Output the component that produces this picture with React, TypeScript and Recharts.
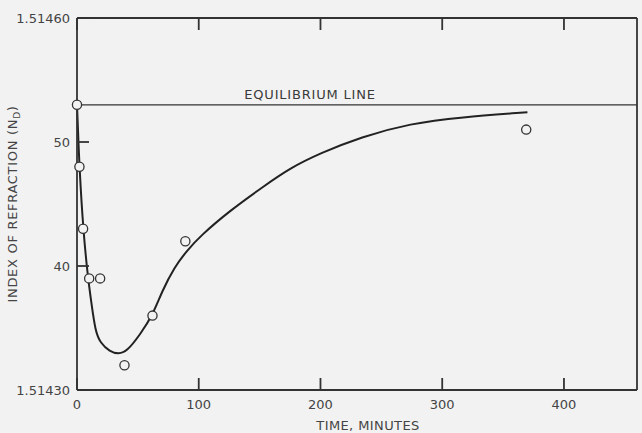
import React from "react";
import {
  ComposedChart,
  Line,
  Scatter,
  XAxis,
  YAxis,
  ReferenceLine,
} from "recharts";

// time (minutes) and index of refraction, in units of 1e-5 above 1.51400
const pointTime = [0, 2, 5, 10, 19, 39, 62, 89, 369];
const pointIndex = [53, 48, 43, 39, 39, 32, 36, 42, 51];

// smooth fitted curve
const curveTime = [0, 1, 2, 5, 9, 12, 15, 19, 27, 34, 41, 52, 62, 70, 80, 90, 101, 126, 153, 175, 200, 233, 274, 315, 370];
const curveIndex = [53, 50.5, 48, 43, 39, 36.9, 34.8, 33.8, 33.1, 32.9, 33.1, 34.5, 36.0, 38.0, 39.9, 41.2, 42.4, 44.5, 46.4, 47.9, 49.1, 50.4, 51.5, 52.0, 52.4];

const equilibrium = 53;
const xTicks = [0, 100, 200, 300, 400];
const yTicks = [30, 40, 50, 60];
const yTickLabels: Record<number, string> = { 30: "1.51430", 40: "40", 50: "50", 60: "1.51460" };

const points = pointTime.map((x, i) => ({ x, y: pointIndex[i] }));
const curve = curveTime.map((x, i) => ({ x, y: curveIndex[i] }));

const bg = "#f2f2f2";
const ink = "#333";
const font = "'DejaVu Sans', sans-serif";

const OpenCircle = (props: any) => (
  <circle cx={props.cx} cy={props.cy} r={4.6} fill={bg} stroke={ink} strokeWidth={1.3} />
);

const EqLabel = (props: any) => {
  const vb = props.viewBox || {};
  const y = (vb.y ?? 103) - 6;
  return (
    <text x={310} y={y} textAnchor="middle" fontSize={13} letterSpacing={0.8} fill="#3a3a3a" fontFamily={font}>
      EQUILIBRIUM LINE
    </text>
  );
};

const YLabel = () => (
  <text
    x={12}
    y={204}
    transform="rotate(-90, 12, 204)"
    textAnchor="middle"
    dominantBaseline="central"
    fontSize={13}
    letterSpacing={0.7}
    fill="#444"
    fontFamily={font}
  >
    INDEX OF REFRACTION (N
    <tspan baselineShift="sub" fontSize={9}>D</tspan>)
  </text>
);

const XLabel = () => (
  <text x={368} y={430} textAnchor="middle" fontSize={13} letterSpacing={0.4} fill="#444" fontFamily={font}>
    TIME, MINUTES
  </text>
);

const NoTick = () => <g />;

export default function App() {
  const tickStyle = { fontSize: 13, fill: "#444", fontFamily: font };
  return (
    <div style={{ position: "absolute", left: 0, top: 0, width: 642, height: 433, background: bg }}>
      <ComposedChart width={642} height={433} margin={{ top: 8, right: 4, bottom: 0, left: 0 }}>
        <XAxis
          type="number"
          dataKey="x"
          domain={[0, 460]}
          ticks={xTicks}
          height={43}
          tickSize={-12}
          tickMargin={22}
          stroke={ink}
          strokeWidth={1.8}
          tick={tickStyle}
          label={<XLabel />}
        />
        <XAxis
          xAxisId="top"
          orientation="top"
          type="number"
          dataKey="x"
          domain={[0, 460]}
          ticks={xTicks}
          height={10}
          tickSize={-12}
          stroke={ink}
          strokeWidth={1.8}
          tick={<NoTick />}
        />
        <YAxis
          type="number"
          domain={[30, 60]}
          ticks={yTicks}
          width={77}
          tickSize={-12}
          tickMargin={19}
          stroke={ink}
          strokeWidth={1.8}
          tick={tickStyle}
          tickFormatter={(v: number) => yTickLabels[v] ?? String(v)}
          label={<YLabel />}
        />
        <YAxis
          yAxisId="right"
          orientation="right"
          type="number"
          domain={[30, 60]}
          width={1}
          stroke={ink}
          strokeWidth={1.8}
          tick={false}
          tickLine={false}
        />
        <ReferenceLine y={equilibrium} stroke={ink} strokeWidth={1.3} label={<EqLabel />} />
        <Line
          data={curve}
          dataKey="y"
          type="basis"
          stroke="#222"
          strokeWidth={2}
          dot={false}
          isAnimationActive={false}
        />
        <Scatter
          xAxisId="top"
          data={points}
          dataKey="y"
          shape={<OpenCircle />}
          isAnimationActive={false}
        />
      </ComposedChart>
    </div>
  );
}
